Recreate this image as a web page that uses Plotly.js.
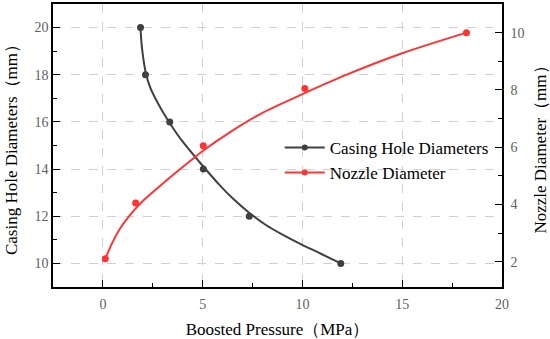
<!DOCTYPE html>
<html>
<head>
<meta charset="utf-8">
<script src="https://cdn.plot.ly/plotly-3.0.1.min.js"></script>
<style>html,body{margin:0;padding:0;background:#fff;}#chart{width:550px;height:339px;}#chart text{font-family:"Liberation Serif", serif !important;}</style>
</head>
<body>
<div id="chart"></div>
<script>
// Measured points
const pressureCasing = [1.885, 2.135, 3.35, 5.035, 7.335, 11.92];
const casingDiam = [20, 18, 16, 14, 12, 10];
const pressureNozzle = [0.12, 1.64, 5.03, 10.12, 18.22];
const nozzleDiam = [2.1, 4.05, 6.05, 8.05, 10];

// Fitted curves
const casingFitX = [1.88, 1.97, 2.17, 2.4, 2.67, 3.0, 3.42, 4.0, 4.84, 5.84, 6.5, 7.33, 8.17, 9.0, 9.84, 10.9, 11.92];
const casingFitY = [20.0, 19.05, 18.0, 17.4, 16.93, 16.43, 15.86, 15.16, 14.3, 13.33, 12.76, 12.15, 11.63, 11.22, 10.85, 10.42, 10.0];
const nozzleFitX = [0.12, 0.5, 0.92, 1.58, 2.0, 2.92, 3.6, 4.42, 5.05, 6.34, 8.0, 9.84, 12.0, 15.0, 18.22];
const nozzleFitY = [2.1, 2.7, 3.22, 3.81, 4.12, 4.68, 5.08, 5.54, 5.89, 6.51, 7.2, 7.8, 8.47, 9.28, 10.0];

const seriesNames = ["Casing Hole Diameters", "Nozzle Diameter"];
const xTitle = "Boosted Pressure（MPa）";
const yTitle = "Casing Hole Diameters（mm）";
const y2Title = "Nozzle Diameter（mm）";

const dark = "#404040";
const red = "#ff3333";
const FONT = "Liberation Serif";

const traces = [
  {x: casingFitX, y: casingFitY, mode: "lines", line: {color: dark, width: 2, shape: "spline", smoothing: 0.8}, showlegend: false, hoverinfo: "skip"},
  {x: pressureCasing, y: casingDiam, mode: "markers", marker: {color: dark, size: 7}, showlegend: false},
  {x: nozzleFitX, y: nozzleFitY, yaxis: "y2", mode: "lines", line: {color: red, width: 2, shape: "spline", smoothing: 0.8}, showlegend: false, hoverinfo: "skip"},
  {x: pressureNozzle, y: nozzleDiam, yaxis: "y2", mode: "markers", marker: {color: red, size: 7}, showlegend: false},
  {x: [null], y: [null], name: seriesNames[0], mode: "lines+markers", line: {color: dark, width: 2}, marker: {color: dark, size: 6}},
  {x: [null], y: [null], yaxis: "y2", name: seriesNames[1], mode: "lines+markers", line: {color: red, width: 2}, marker: {color: red, size: 6}}
];

const axisCommon = {
  showline: true, linecolor: "#000", linewidth: 1.5,
  ticks: "inside", ticklen: 7, tickwidth: 1.2, tickcolor: "#000",
  tickfont: {family: FONT, size: 14, color: "#606060"},
  zeroline: false
};

const layout = {
  width: 550, height: 339,
  margin: {l: 53, r: 48, t: 4, b: 52},
  paper_bgcolor: "#fff", plot_bgcolor: "#fff",
  font: {family: FONT, color: "#000"},
  showlegend: true,
  legend: {x: 0.505, xanchor: "left", y: 0.555, yanchor: "top", bgcolor: "rgba(0,0,0,0)", itemwidth: 40, font: {family: FONT, size: 17, color: "#000"}, tracegroupgap: 0},
  xaxis: Object.assign({}, axisCommon, {
    range: [-2.5, 20], tick0: 0, dtick: 5, mirror: true, ticklabelstandoff: 3,
    showgrid: true, gridcolor: "#d0d0d0", griddash: "dash", gridwidth: 1,
    minor: {dtick: 2.5, tick0: 0, ticks: "inside", ticklen: 4, tickcolor: "#000", showgrid: false},
    title: {text: xTitle, font: {family: FONT, size: 17, color: "#000"}, standoff: 13}
  }),
  yaxis: Object.assign({}, axisCommon, {
    range: [9, 21], tick0: 10, dtick: 2,
    showgrid: true, gridcolor: "#d0d0d0", griddash: "dash", gridwidth: 1,
    minor: {dtick: 1, tick0: 10, ticks: "inside", ticklen: 4, tickcolor: "#000", showgrid: false},
    title: {text: yTitle, font: {family: FONT, size: 17, color: "#000"}, standoff: 13}
  }),
  yaxis2: Object.assign({}, axisCommon, {
    overlaying: "y", side: "right", ticklabelstandoff: 4,
    range: [1.116, 11.0], tick0: 2, dtick: 2, showgrid: false,
    minor: {dtick: 1, tick0: 2, ticks: "inside", ticklen: 4, tickcolor: "#000", showgrid: false},
    title: {text: y2Title, font: {family: FONT, size: 17, color: "#000"}, standoff: 14}
  })
};

Plotly.newPlot("chart", traces, layout, {displayModeBar: false}).then(function () {
  document.querySelectorAll("#chart text").forEach(function (t) {
    t.style.setProperty("font-family", "Liberation Serif", "important");
  });
});
</script>
</body>
</html>
